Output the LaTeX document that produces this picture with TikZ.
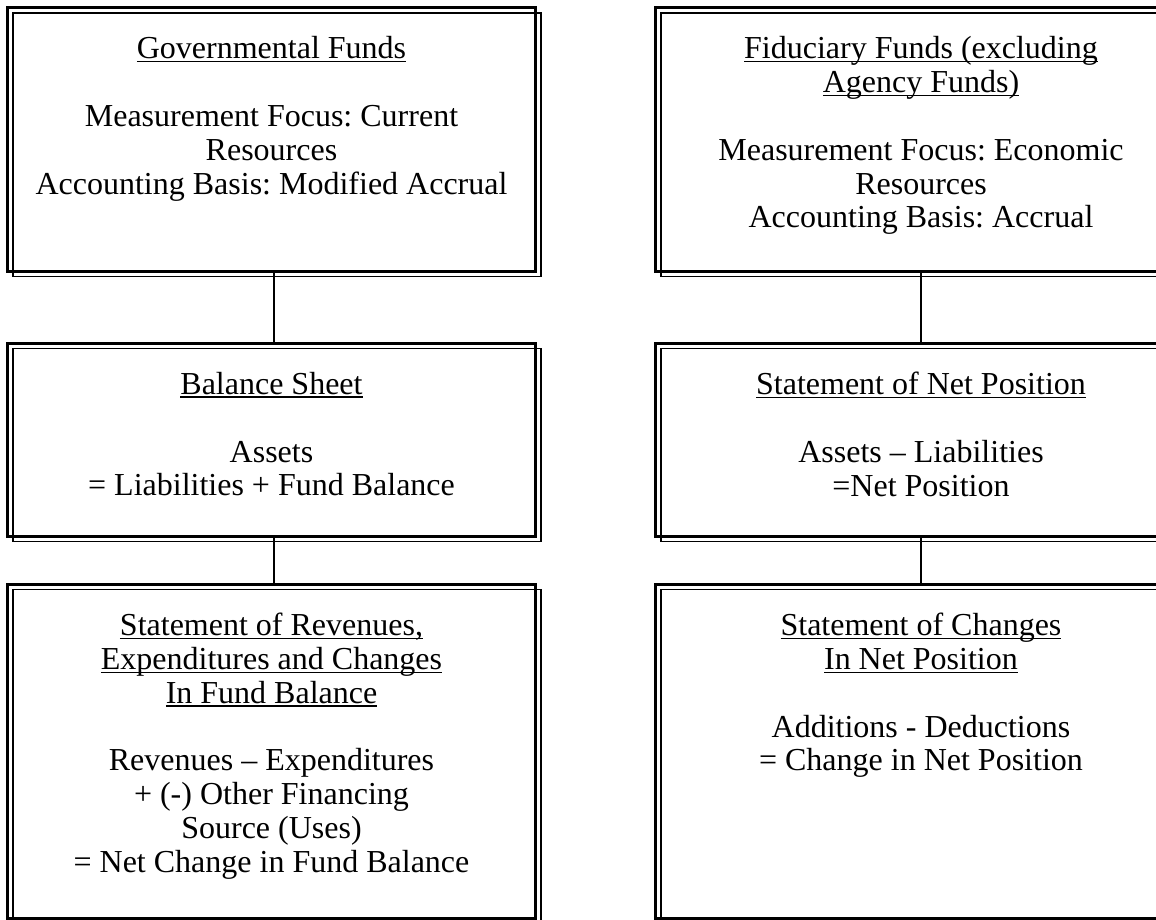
\documentclass[tikz,border=0pt]{standalone}
\usepackage{fontspec}
\setmainfont{Liberation Serif}
\usetikzlibrary{positioning}
\frenchspacing
\tikzset{
  fundbox/.style={draw, line width=3pt, minimum width=528pt, inner sep=0pt, outer sep=0pt, anchor=north west},
  thinframe/.style={line width=1.2pt},
  boxtext/.style={align=center, anchor=north, inner sep=0pt, font=\fontsize{32}{33.8}\selectfont},
  link/.style={line width=2pt},
}
\newcommand{\hd}[1]{\setbox0\hbox{#1}\rlap{\rule[-3.5pt]{\wd0}{1.5pt}}\box0}

\begin{document}
\begin{tikzpicture}[x=1pt, y=-1pt]
    \clip (0,0) rectangle (1156,920);

    % Boxes
    \node[fundbox, minimum height=263.5pt] (gov) at (7.5,7.5) {};
    \node[fundbox, minimum height=193pt] (bs) at (7.5,343) {};
    \node[fundbox, minimum height=334pt] (rev) at (7.5,584) {};
    \node[fundbox, minimum width=531pt, minimum height=263.5pt] (fid) at (655.5,7.5) {};
    \node[fundbox, minimum width=531pt, minimum height=193pt] (snp) at (655.5,343) {};
    \node[fundbox, minimum width=531pt, minimum height=334pt] (chg) at (655.5,584) {};
    \foreach \b in {gov, bs, rev, fid, snp, chg}
      \draw[thinframe] ([shift={(5.5,5.5)}]\b.north west) rectangle ([shift={(5.5,5.5)}]\b.south east);

    % Connectors
    \draw[link] ([xshift=2pt]gov.south) -- ([xshift=2pt]bs.north);
    \draw[link] ([xshift=2pt]bs.south) -- ([xshift=2pt]rev.north);
    \draw[link] (fid.south) -- (snp.north);
    \draw[link] (snp.south) -- (chg.north);

    % Texts
    \node[boxtext] (govtext) at ([yshift=-29pt]gov.north) {\hd{Governmental Funds}\\[\baselineskip]
      Measurement Focus: Current\\ Resources\\ Accounting Basis: Modified Accrual};
    \node[boxtext] (bstext) at ([yshift=-29pt]bs.north) {\hd{Balance Sheet}\\[\baselineskip]
      Assets\\ = Liabilities + Fund Balance};
    \node[boxtext] (revtext) at ([yshift=-29pt]rev.north) {\hd{Statement of Revenues,}\\
      \hd{Expenditures and Changes}\\ \hd{In Fund Balance}\\[\baselineskip]
      Revenues – Expenditures\\ + (-) Other Financing\\ Source (Uses)\\ = Net Change in Fund Balance};
    \node[boxtext] (fidtext) at ([yshift=-29pt]fid.north) {\hd{Fiduciary Funds (excluding}\\
      \hd{Agency Funds)}\\[\baselineskip]
      Measurement Focus: Economic\\ Resources\\ Accounting Basis: Accrual};
    \node[boxtext] (snptext) at ([yshift=-29pt]snp.north) {\hd{Statement of Net Position}\\[\baselineskip]
      Assets – Liabilities\\ =Net Position};
    \node[boxtext] (chgtext) at ([yshift=-29pt]chg.north) {\hd{Statement of Changes}\\
      \hd{In Net Position}\\[\baselineskip]
      Additions - Deductions\\ = Change in Net Position};
\end{tikzpicture}
\end{document}
